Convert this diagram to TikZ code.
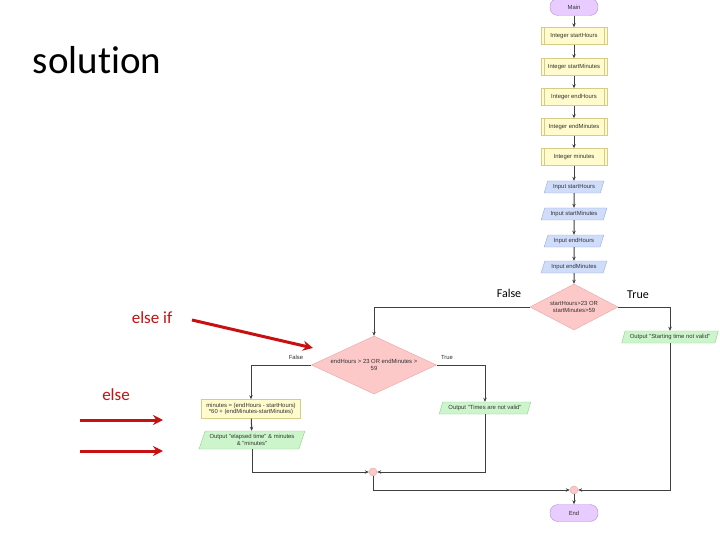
\documentclass[tikz,border=0pt]{standalone}
\usepackage{fontspec}
\setmainfont{Carlito}[Ligatures=CommonOff]
\newfontfamily\fcfont{Liberation Sans}
\usetikzlibrary{shapes.geometric,arrows.meta}
\definecolor{declfill}{HTML}{FFFBCC}
\definecolor{declline}{HTML}{D6CC88}
\definecolor{infill}{HTML}{CFDCFA}
\definecolor{inline}{HTML}{98ACDF}
\definecolor{outfill}{HTML}{CCF5CC}
\definecolor{outline}{HTML}{8ECE8E}
\definecolor{decfill}{HTML}{FCC8C8}
\definecolor{decline}{HTML}{E6A6A6}
\definecolor{termfill}{HTML}{E8CCFF}
\definecolor{termline}{HTML}{B48CE0}
\definecolor{fctext}{HTML}{333333}
\definecolor{conn}{HTML}{404040}
\definecolor{slidered}{HTML}{C81010}
\begin{document}
\begin{tikzpicture}[x=1pt,y=-1pt,
  fc/.style={font=\fcfont\fontsize{5.9}{6.6}\selectfont, text=fctext, align=center, inner sep=0.5pt},
  decl/.style={fc, rectangle, draw=declline, fill=declfill, minimum width=66pt, minimum height=17pt,
    path picture={\draw[declline] ([xshift=3pt]path picture bounding box.north west) -- ([xshift=3pt]path picture bounding box.south west);
                  \draw[declline] ([xshift=-3pt]path picture bounding box.north east) -- ([xshift=-3pt]path picture bounding box.south east);}},
  proc/.style={fc, rectangle, draw=declline, fill=declfill},
  para/.style={fc, trapezium, trapezium left angle=65, trapezium right angle=115, trapezium stretches=true, minimum height=12pt},
  inp/.style={para, draw=inline, fill=infill},
  outp/.style={para, draw=outline, fill=outfill},
  dec/.style={fc, diamond, draw=decline, fill=decfill, inner sep=0pt},
  term/.style={fc, rectangle, rounded corners=8pt, draw=termline, fill=termfill, minimum width=48pt, minimum height=17pt},
  junc/.style={circle, draw=decline, fill=decfill, minimum size=8pt, inner sep=0pt},
  arr/.style={draw=conn, line width=1pt, -{Stealth[length=4pt,width=3.4pt]}},
  fclabel/.style={fc},
  slide/.style={font=\fontsize{12}{14}\selectfont, text=black, inner sep=0pt},
  redtxt/.style={font=\fontsize{17}{20}\selectfont, text=slidered, inner sep=0pt},
  redarr/.style={draw=slidered, line width=3pt, -{Stealth[length=10pt,width=10pt]}}
]
\useasboundingbox (0,0) rectangle (720,540);
\fill[white] (0,0) rectangle (720,540);

% slide texts
\node[font=\fontsize{39}{44}\selectfont, inner sep=0pt] (title) at (97,60) {solution};
\node[slide] (sfalse) at (509,293) {False};
\node[slide] (strue) at (638,295) {True};
\node[redtxt] (elseif) at (152,318) {else if};
\node[redtxt] (else) at (116,395) {else};

% flowchart
\node[term, minimum width=48pt] (main) at (574,7) {Main};
\node[decl] (v1) at (574,36) {Integer startHours};
\node[decl] (v2) at (574,67) {Integer startMinutes};
\node[decl] (v3) at (574,97) {Integer endHours};
\node[decl] (v4) at (574,127) {Integer endMinutes};
\node[decl] (v5) at (574,157) {Integer minutes};
\node[inp, minimum width=60pt] (i1) at (574,187) {Input startHours};
\node[inp, minimum width=66pt] (i2) at (574,214) {Input startMinutes};
\node[inp, minimum width=60pt] (i3) at (574,241) {Input endHours};
\node[inp, minimum width=66pt] (i4) at (574,267) {Input endMinutes};
\node[dec, minimum width=88pt, minimum height=46pt, aspect=1.9] (c1) at (574,307) {startHours>23 OR\\startMinutes>59};
\node[outp, minimum width=97pt] (o1) at (670,337) {Output "Starting time not valid"};
\node[dec, minimum width=125pt, minimum height=58pt, aspect=2.15] (c2) at (374,365) {endHours > 23 OR endMinutes >\\59};
\node[fclabel] (lfalse) at (296,357) {False};
\node[fclabel] (ltrue) at (447,357) {True};
\node[proc, minimum width=99pt, minimum height=19pt] (calc) at (251,409) {minutes = (endHours - startHours)\\*60 + (endMinutes-startMinutes)};
\node[outp, minimum width=106pt, minimum height=18pt] (o2) at (252,440) {Output "elapsed time" \& minutes\\\& "minutes"};
\node[outp, minimum width=92pt] (o3) at (485,408) {Output "Times are not valid"};
\node[junc] (j1) at (373,472) {};
\node[junc] (j2) at (574,490) {};
\node[term] (end) at (574,513) {End};

\draw[arr] (main) -- (v1);
\draw[arr] (v1) -- (v2);
\draw[arr] (v2) -- (v3);
\draw[arr] (v3) -- (v4);
\draw[arr] (v4) -- (v5);
\draw[arr] (v5) -- (i1);
\draw[arr] (i1) -- (i2);
\draw[arr] (i2) -- (i3);
\draw[arr] (i3) -- (i4);
\draw[arr] (i4) -- (c1);
\draw[arr] (c1.west) -| (c2.north);
\draw[arr] (c1.east) -| (o1.north);
\draw[arr] (c2.west) -| (calc.north);
\draw[arr] (calc) -- (o2);
\draw[arr] (o2.south) |- (j1.west);
\draw[arr] (c2.east) -| (o3.north);
\draw[arr] (o3.south) |- (j1.east);
\draw[arr] (j1.south) |- (j2.west);
\draw[arr] (o1.south) |- (j2.east);
\draw[arr] (j2) -- (end);

% red annotation arrows
\coordinate (r1s) at (192,320);
\coordinate (r1e) at (313,348);
\coordinate (r2s) at (80,420);
\coordinate (r2e) at (163,420);
\coordinate (r3s) at (80,451);
\coordinate (r3e) at (163,451);
\draw[redarr] (r1s) -- (r1e);
\draw[redarr] (r2s) -- (r2e);
\draw[redarr] (r3s) -- (r3e);
\end{tikzpicture}
\end{document}
